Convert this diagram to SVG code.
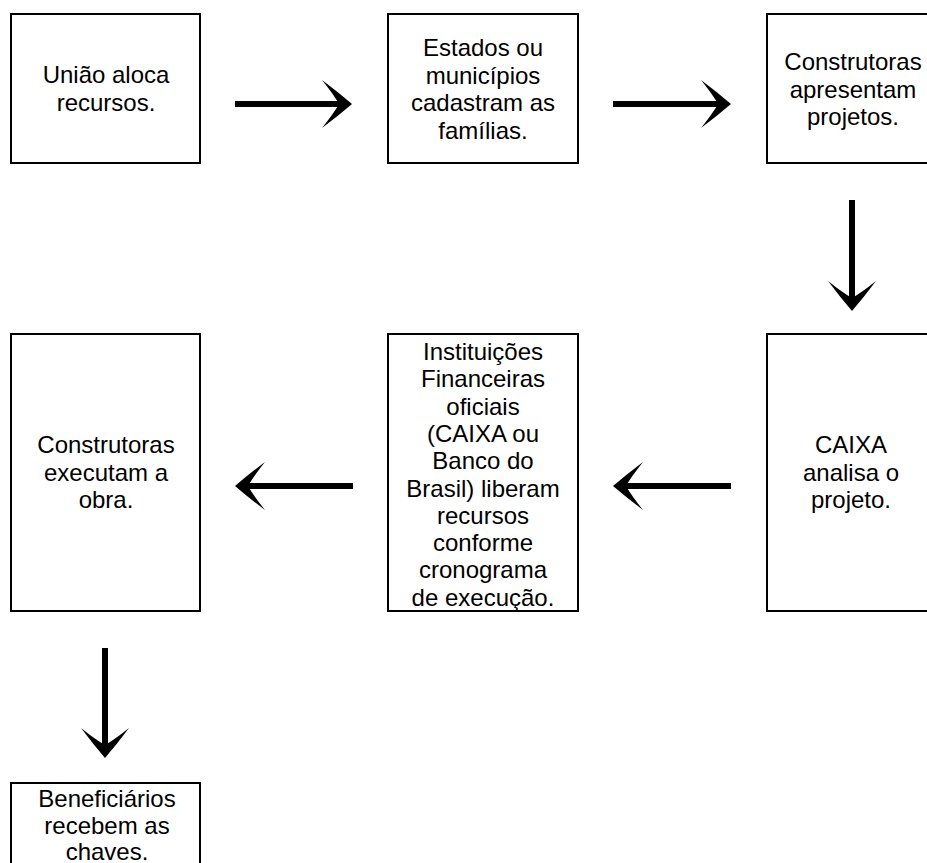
<svg xmlns="http://www.w3.org/2000/svg" width="927" height="863" viewBox="0 0 927 863">
<style>
.box{fill:#fff;stroke:#000;stroke-width:2}
.t{font-family:"Liberation Sans",Arial,sans-serif;font-size:24px;fill:#000;text-anchor:middle}
.c{fill:none;stroke:#000;stroke-width:6;marker-end:url(#ah)}
</style>
<defs>
<marker id="ah" markerUnits="userSpaceOnUse" viewBox="-32 -26 34 52" refX="-10" refY="0" markerWidth="34" markerHeight="52" orient="auto" overflow="visible">
<path d="M0,0 Q-14,-12 -30,-24 Q-18,-9 -13,0 Q-18,9 -30,24 Q-14,12 0,0 Z" fill="#000"/>
</marker>
</defs>
<rect width="927" height="863" fill="#fff"/>
<g id="connectors">
<path class="c" d="M235,104 H342"/>
<path class="c" d="M613,104 H721"/>
<path class="c" d="M852,200 V301"/>
<path class="c" d="M353,486 H245"/>
<path class="c" d="M731,486 H623"/>
<path class="c" d="M105,648 V748"/>
</g>
<g id="n1">
<rect class="box" x="11" y="14" width="189" height="149"/>
<text class="t" x="106" y="83">União aloca</text>
<text class="t" x="106" y="111">recursos.</text>
</g>
<g id="n2">
<rect class="box" x="388" y="14" width="190" height="149"/>
<text class="t" x="483" y="56">Estados ou</text>
<text class="t" x="483" y="83.5">municípios</text>
<text class="t" x="483" y="111">cadastram as</text>
<text class="t" x="483" y="138.5">famílias.</text>
</g>
<g id="n3">
<rect class="box" x="767" y="14" width="190" height="149"/>
<text class="t" x="853" y="70">Construtoras</text>
<text class="t" x="853" y="97.5">apresentam</text>
<text class="t" x="853" y="125">projetos.</text>
</g>
<g id="n4">
<rect class="box" x="767" y="334" width="190" height="277"/>
<text class="t" x="851" y="453">CAIXA</text>
<text class="t" x="851" y="480.5">analisa o</text>
<text class="t" x="851" y="508">projeto.</text>
</g>
<g id="n5">
<rect class="box" x="388" y="334" width="190" height="277"/>
<text class="t" x="483" y="360">Instituições</text>
<text class="t" x="483" y="387.3">Financeiras</text>
<text class="t" x="483" y="414.6">oficiais</text>
<text class="t" x="483" y="441.9">(CAIXA ou</text>
<text class="t" x="483" y="469.2">Banco do</text>
<text class="t" x="483" y="496.5">Brasil) liberam</text>
<text class="t" x="483" y="523.8">recursos</text>
<text class="t" x="483" y="551.1">conforme</text>
<text class="t" x="483" y="578.4">cronograma</text>
<text class="t" x="483" y="605.7">de execução.</text>
</g>
<g id="n6">
<rect class="box" x="11" y="334" width="189" height="277"/>
<text class="t" x="106" y="453">Construtoras</text>
<text class="t" x="106" y="480.5">executam a</text>
<text class="t" x="106" y="508">obra.</text>
</g>
<g id="n7">
<rect class="box" x="11" y="783" width="189" height="100"/>
<text class="t" x="107" y="807">Beneficiários</text>
<text class="t" x="107" y="834">recebem as</text>
<text class="t" x="107" y="860">chaves.</text>
</g>
</svg>
